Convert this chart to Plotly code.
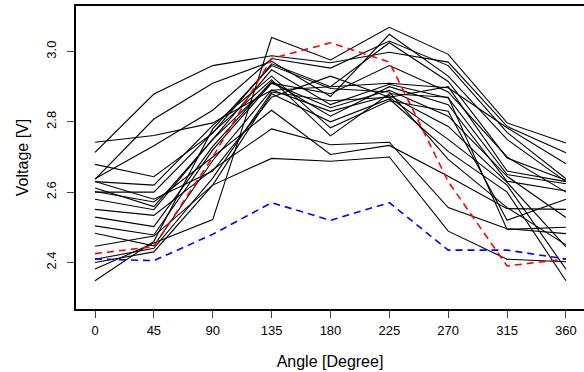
import plotly.graph_objects as go

angles = [0, 45, 90, 135, 180, 225, 270, 315, 360]

black_series = [
    [2.381, 2.455, 2.522, 3.040, 2.976, 3.069, 2.992, 2.797, 2.740],
    [2.713, 2.879, 2.960, 2.988, 2.968, 2.998, 2.970, 2.787, 2.712],
    [2.742, 2.761, 2.797, 2.890, 2.900, 2.910, 2.897, 2.783, 2.681],
    [2.446, 2.475, 2.620, 2.696, 2.688, 2.700, 2.489, 2.409, 2.402],
    [2.551, 2.534, 2.664, 2.780, 2.735, 2.742, 2.556, 2.496, 2.482],
    [2.602, 2.572, 2.700, 2.833, 2.707, 2.733, 2.645, 2.553, 2.551],
    [2.636, 2.808, 2.910, 2.972, 2.872, 3.049, 2.930, 2.750, 2.630],
    [2.638, 2.732, 2.833, 2.980, 2.953, 3.030, 2.960, 2.770, 2.638],
    [2.679, 2.644, 2.768, 2.965, 2.900, 3.025, 2.915, 2.697, 2.634],
    [2.612, 2.559, 2.750, 2.948, 2.849, 2.907, 2.868, 2.650, 2.624],
    [2.529, 2.502, 2.730, 2.915, 2.816, 2.900, 2.849, 2.631, 2.603],
    [2.504, 2.478, 2.720, 2.910, 2.840, 2.890, 2.816, 2.645, 2.528],
    [2.483, 2.447, 2.690, 2.891, 2.830, 2.875, 2.787, 2.628, 2.444],
    [2.409, 2.440, 2.640, 2.885, 2.860, 2.870, 2.750, 2.620, 2.381],
    [2.400, 2.430, 2.620, 2.880, 2.800, 2.865, 2.716, 2.600, 2.348],
    [2.348, 2.460, 2.780, 2.960, 2.895, 2.885, 2.693, 2.556, 2.450],
    [2.630, 2.620, 2.790, 2.930, 2.783, 2.860, 2.830, 2.520, 2.580],
    [2.600, 2.600, 2.770, 2.920, 2.760, 2.880, 2.870, 2.494, 2.500],
    [2.580, 2.550, 2.750, 2.910, 2.880, 2.960, 2.885, 2.700, 2.600],
    [2.630, 2.580, 2.660, 2.870, 2.930, 2.870, 2.900, 2.660, 2.630],
]

red_series = [2.425, 2.445, 2.700, 2.980, 3.025, 2.970, 2.630, 2.390, 2.410]
blue_series = [2.410, 2.405, 2.480, 2.570, 2.520, 2.570, 2.435, 2.435, 2.410]

x_ticks = [0, 45, 90, 135, 180, 225, 270, 315, 360]
y_ticks = [2.4, 2.6, 2.8, 3.0]
y_tick_text = ["2.4", "2.6", "2.8", "3.0"]

fig = go.Figure()
for s in black_series:
    fig.add_trace(go.Scatter(x=angles, y=s, mode="lines",
                             line=dict(color="black", width=1.1), showlegend=False))
fig.add_trace(go.Scatter(x=angles, y=red_series, mode="lines",
                         line=dict(color="#FF0000", width=1.6, dash="7px,5px"), showlegend=False))
fig.add_trace(go.Scatter(x=angles, y=blue_series, mode="lines",
                         line=dict(color="#0000FF", width=1.6, dash="7px,5px"), showlegend=False))

font_family = "Liberation Sans, Arial, sans-serif"
fig.update_layout(
    width=584, height=372,
    autosize=False,
    margin=dict(l=76, r=0, t=6, b=63, pad=0, autoexpand=False),
    plot_bgcolor="white", paper_bgcolor="white",
    font=dict(family=font_family, color="black", size=13),
    xaxis=dict(range=[-14.52, 373.8], tickvals=x_ticks, ticktext=[str(v) for v in x_ticks],
               showgrid=False, zeroline=False, showline=True, mirror=True, automargin=False,
               linecolor="black", linewidth=2, ticks="outside", ticklen=7, tickwidth=1,
               tickcolor="#444", ticklabelstandoff=1,
               title=dict(text="Angle [Degree]", font=dict(size=16), standoff=19)),
    yaxis=dict(range=[2.2675, 3.1296], tickvals=y_ticks, ticktext=y_tick_text, tickangle=-90,
               showgrid=False, zeroline=False, showline=True, mirror=False, automargin=False,
               linecolor="black", linewidth=2, ticks="outside", ticklen=7, tickwidth=1,
               tickcolor="#444", ticklabelstandoff=6,
               title=dict(text="Voltage [V]", font=dict(size=16), standoff=11)),
)

fig.write_html("out.html", config={"displayModeBar": False},
               post_script="document.body.style.margin='0';")
